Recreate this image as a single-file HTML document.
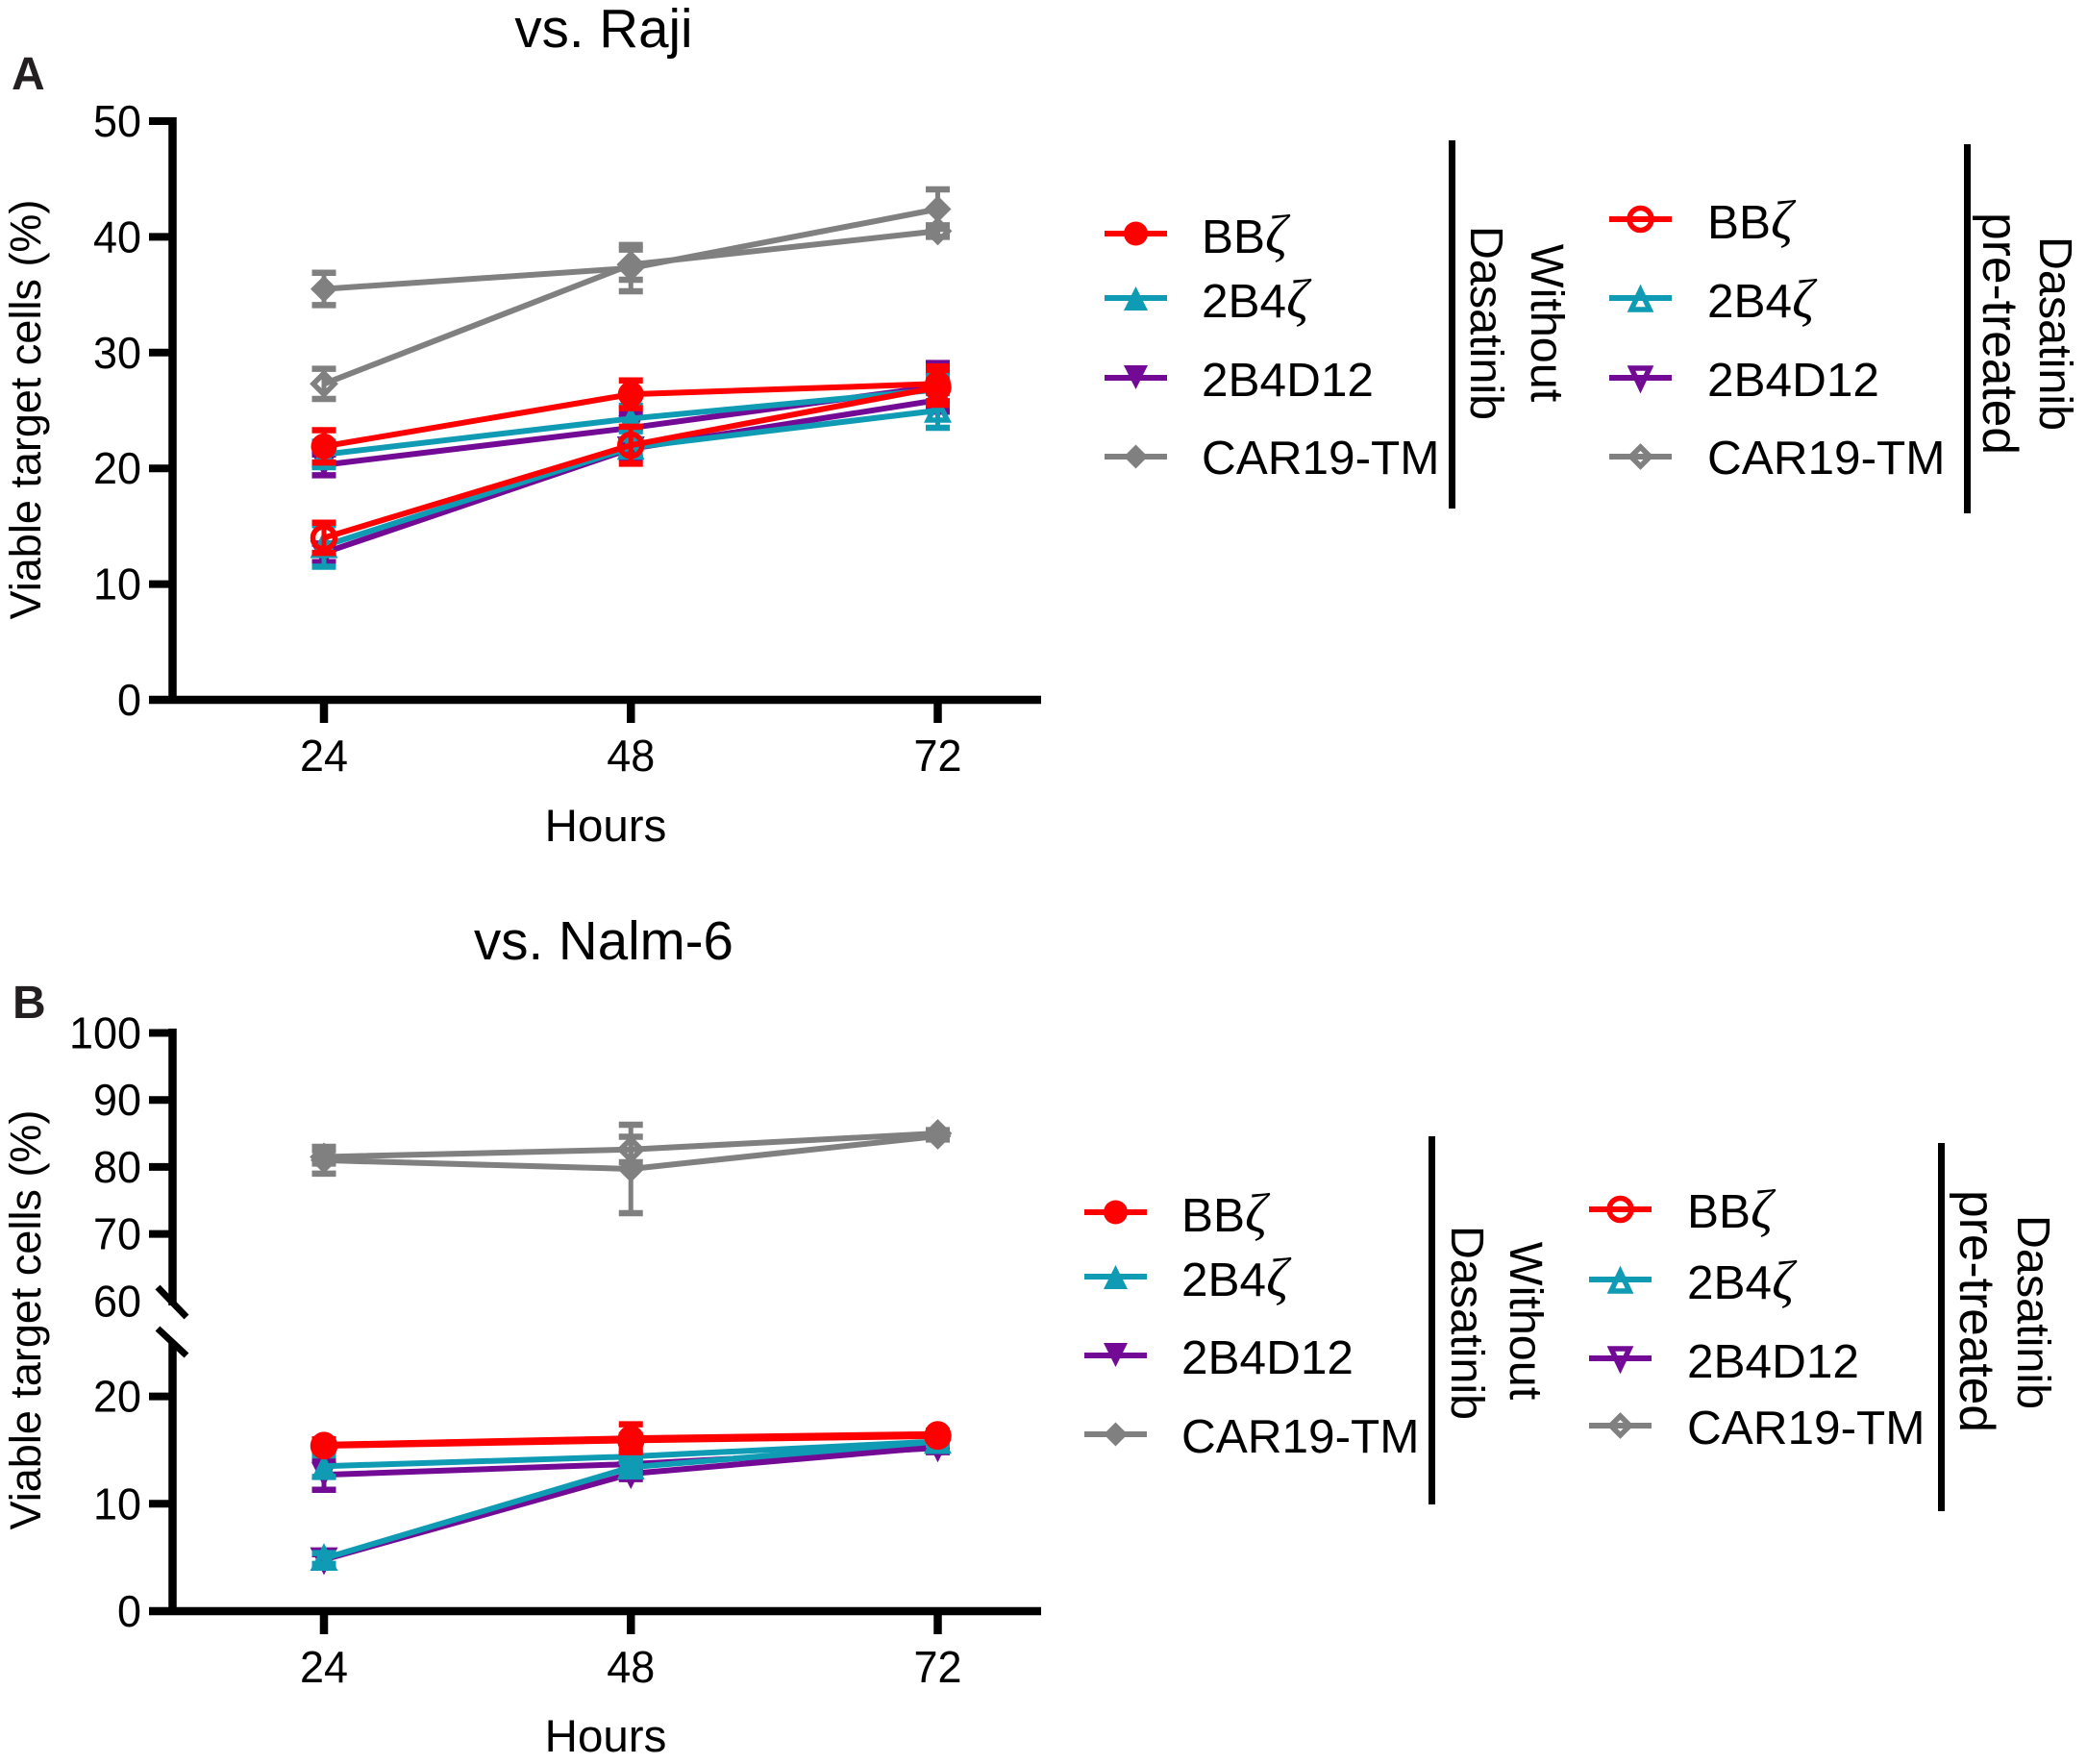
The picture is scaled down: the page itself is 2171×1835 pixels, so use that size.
<!DOCTYPE html>
<html>
<head>
<meta charset="utf-8">
<title>Viable target cells vs. Raji and Nalm-6</title>
<style>
html,body{margin:0;padding:0;background:#fff;}
svg{display:block;}
text{font-family:"Liberation Sans",Arial,sans-serif;fill:#000;}
.tick{font-size:46px;}
.axt{font-size:47.5px;}
.ttl{font-size:56.5px;}
.ylab{font-size:45px;}
.leg{font-size:49.5px;}
.rot{font-size:48.5px;}
.rot2{font-size:51.5px;}
.zeta{font-family:"Liberation Serif","DejaVu Serif",serif;font-style:italic;font-size:57px;}
.pl{font-size:48px;font-weight:bold;fill:#231f20;}
.h{stroke-width:6;fill:none;}
.om{fill:none;stroke-width:5.5;}
</style>
</head>
<body>
<svg id="chart" xmlns="http://www.w3.org/2000/svg" width="2171" height="1835" viewBox="0 0 2171 1835">
<rect x="0" y="0" width="2171" height="1835" fill="#fff"/>

<text class="ttl" x="628" y="49" text-anchor="middle">vs. Raji</text>
<text class="pl" x="12" y="93">A</text>
<text class="ylab" transform="translate(42,426) rotate(-90)" text-anchor="middle">Viable target cells (%)</text>
<text class="axt" x="630" y="875" text-anchor="middle">Hours</text>
<g id="panelA"></g>

<text class="ttl" x="628" y="998" text-anchor="middle">vs. Nalm-6</text>
<text class="pl" x="13" y="1059">B</text>
<text class="ylab" transform="translate(42,1373) rotate(-90)" text-anchor="middle">Viable target cells (%)</text>
<text class="axt" x="630" y="1822" text-anchor="middle">Hours</text>
<g id="panelB"></g>

<!-- Legend A, without dasatinib -->
<g>
<g><path class="h" stroke="#ff0000" d="M1149 243H1214"/><circle cx="1181.5" cy="243" r="12.5" fill="#ff0000"/><text class="leg" x="1250" y="263">BB<tspan class="zeta">ζ</tspan></text></g>
<g><path class="h" stroke="#0f9bb4" d="M1149 310H1214"/><path d="M1181.5 298L1194 323H1169Z" fill="#0f9bb4"/><text class="leg" x="1250" y="330">2B4<tspan class="zeta">ζ</tspan></text></g>
<g><path class="h" stroke="#730a96" d="M1149 393H1214"/><path d="M1181.5 405L1194 380H1169Z" fill="#730a96"/><text class="leg" x="1250" y="412">2B4D12</text></g>
<g><path class="h" stroke="#808080" d="M1149 475H1214"/><path d="M1181.5 462.5L1194 475L1181.5 487.5L1169 475Z" fill="#808080"/><text class="leg" x="1250" y="493">CAR19-TM</text></g>
<rect x="1507" y="146" width="7" height="383" fill="#000"/>
<text class="rot" transform="translate(1593,336) rotate(90)" text-anchor="middle">Without</text>
<text class="rot" transform="translate(1530,336) rotate(90)" text-anchor="middle">Dasatinib</text>
</g>

<!-- Legend A, pre-treated -->
<g>
<g><path class="h" stroke="#ff0000" d="M1674 228H1739"/><circle class="om" cx="1706.5" cy="228" r="11.5" stroke="#ff0000"/><text class="leg" x="1776" y="248">BB<tspan class="zeta">ζ</tspan></text></g>
<g><path class="h" stroke="#0f9bb4" d="M1674 310H1739"/><path class="om" d="M1706.5 302L1716 322H1697Z" stroke="#0f9bb4"/><text class="leg" x="1776" y="330">2B4<tspan class="zeta">ζ</tspan></text></g>
<g><path class="h" stroke="#730a96" d="M1674 393H1739"/><path class="om" d="M1706.5 403L1716 383H1697Z" stroke="#730a96"/><text class="leg" x="1776" y="412">2B4D12</text></g>
<g><path class="h" stroke="#808080" d="M1674 475H1739"/><path class="om" d="M1706.5 465L1716.5 475L1706.5 485L1696.5 475Z" stroke="#808080"/><text class="leg" x="1776" y="493">CAR19-TM</text></g>
<rect x="2043" y="150" width="7" height="384" fill="#000"/>
<text class="rot2" transform="translate(2063,347) rotate(90)" text-anchor="middle">pre-treated</text>
<text class="rot" transform="translate(2122,347) rotate(90)" text-anchor="middle">Dasatinib</text>
</g>

<!-- Legend B, without dasatinib -->
<g>
<g><path class="h" stroke="#ff0000" d="M1128 1261H1193"/><circle cx="1160.5" cy="1261" r="12.5" fill="#ff0000"/><text class="leg" x="1229" y="1281">BB<tspan class="zeta">ζ</tspan></text></g>
<g><path class="h" stroke="#0f9bb4" d="M1128 1328H1193"/><path d="M1160.5 1316L1173 1341H1148Z" fill="#0f9bb4"/><text class="leg" x="1229" y="1348">2B4<tspan class="zeta">ζ</tspan></text></g>
<g><path class="h" stroke="#730a96" d="M1128 1410H1193"/><path d="M1160.5 1422L1173 1397H1148Z" fill="#730a96"/><text class="leg" x="1229" y="1429">2B4D12</text></g>
<g><path class="h" stroke="#808080" d="M1128 1492H1193"/><path d="M1160.5 1479.5L1173 1492L1160.5 1504.5L1148 1492Z" fill="#808080"/><text class="leg" x="1229" y="1511">CAR19-TM</text></g>
<rect x="1486" y="1182" width="7" height="383" fill="#000"/>
<text class="rot" transform="translate(1571,1374) rotate(90)" text-anchor="middle">Without</text>
<text class="rot" transform="translate(1510,1376) rotate(90)" text-anchor="middle">Dasatinib</text>
</g>

<!-- Legend B, pre-treated -->
<g>
<g><path class="h" stroke="#ff0000" d="M1653 1258H1718"/><circle class="om" cx="1685.5" cy="1258" r="11.5" stroke="#ff0000"/><text class="leg" x="1755" y="1277">BB<tspan class="zeta">ζ</tspan></text></g>
<g><path class="h" stroke="#0f9bb4" d="M1653 1331H1718"/><path class="om" d="M1685.5 1323L1695 1343H1676Z" stroke="#0f9bb4"/><text class="leg" x="1755" y="1351">2B4<tspan class="zeta">ζ</tspan></text></g>
<g><path class="h" stroke="#730a96" d="M1653 1413H1718"/><path class="om" d="M1685.5 1423L1695 1403H1676Z" stroke="#730a96"/><text class="leg" x="1755" y="1433">2B4D12</text></g>
<g><path class="h" stroke="#808080" d="M1653 1483H1718"/><path class="om" d="M1685.5 1473L1695.5 1483L1685.5 1493L1675.5 1483Z" stroke="#808080"/><text class="leg" x="1755" y="1502">CAR19-TM</text></g>
<rect x="2016" y="1189" width="7" height="383" fill="#000"/>
<text class="rot2" transform="translate(2039,1364) rotate(90)" text-anchor="middle">pre-treated</text>
<text class="rot" transform="translate(2099,1365) rotate(90)" text-anchor="middle">Dasatinib</text>
</g>
</svg>

<script>
// Categories and ticks
const hours = [24, 48, 72];
const yTicksRaji = [0, 10, 20, 30, 40, 50];
const yTicksNalm = [0, 10, 20, 60, 70, 80, 90, 100];

// Panel A: vs. Raji (means and error half-widths)
const rajiCarFilled = [35.5, 37.3, 42.4];
const rajiCarFilledErr = [1.4, 2.0, 1.7];
const rajiCarOpen = [27.3, 37.6, 40.5];
const rajiCarOpenErr = [1.3, 1.3, 0.5];
const raji2b4d12Filled = [20.3, 23.5, 27.1];
const raji2b4d12FilledErr = [0.9, 1.2, 2.0];
const raji2b4d12Open = [12.7, 21.7, 25.9];
const raji2b4d12OpenErr = [0.8, 0.8, 1.0];
const raji2b4zFilled = [21.2, 24.3, 26.8];
const raji2b4zFilledErr = [1.1, 1.1, 1.2];
const raji2b4zOpen = [13.3, 21.8, 25.0];
const raji2b4zOpenErr = [1.8, 0.7, 1.5];
const rajiBbzOpen = [14.0, 22.0, 27.0];
const rajiBbzOpenErr = [1.3, 1.6, 1.5];
const rajiBbzFilled = [21.9, 26.4, 27.3];
const rajiBbzFilledErr = [1.4, 1.2, 1.5];

// Panel B: vs. Nalm-6 (means and error half-widths)
const nalmCarFilled = [81.0, 79.7, 84.6];
const nalmCarFilledErr = [2.0, 6.6, 0.5];
const nalmCarOpen = [81.5, 82.6, 85.0];
const nalmCarOpenErr = [1.0, 1.9, 0.5];
const nalm2b4d12Filled = [12.7, 13.7, 15.2];
const nalm2b4d12FilledErr = [1.4, 0.5, 0.4];
const nalm2b4d12Open = [4.8, 12.8, 15.3];
const nalm2b4d12OpenErr = [0.5, 0.5, 0.3];
const nalm2b4zFilled = [13.5, 14.4, 15.8];
const nalm2b4zFilledErr = [1.0, 0.5, 0.3];
const nalm2b4zOpen = [4.9, 13.4, 15.8];
const nalm2b4zOpenErr = [0.5, 0.5, 0.3];
const nalmBbzOpen = [15.4, 15.9, 16.3];
const nalmBbzOpenErr = [0.4, 0.5, 0.3];
const nalmBbzFilled = [15.5, 16.1, 16.5];
const nalmBbzFilledErr = [0.5, 1.3, 0.3];

const RED = '#ff0000', TEAL = '#0f9bb4', PURPLE = '#730a96', GRAY = '#808080';
const NS = 'http://www.w3.org/2000/svg';

function mk(parent, tag) {
  const el = document.createElementNS(NS, tag);
  parent.appendChild(el);
  return el;
}
function xScale(h) {
  return 337 + (h - 24) * (975.5 - 337) / 48;
}
function yRaji(v) {
  return 728 - v * 602 / 50;
}
function yNalm(v) {
  if (v >= 40) return 1074.5 + (100 - v) * 6.97;
  return 1676 - v * 11.17;
}
function markerPath(shape, open, cx, cy) {
  const s = open ? 10 : 13;
  if (shape === 'up') return 'M' + cx + ' ' + (cy - s) + 'L' + (cx + s) + ' ' + (cy + s) + 'H' + (cx - s) + 'Z';
  if (shape === 'down') return 'M' + cx + ' ' + (cy + s) + 'L' + (cx + s) + ' ' + (cy - s) + 'H' + (cx - s) + 'Z';
  return 'M' + cx + ' ' + (cy - s - 1) + 'L' + (cx + s + 1) + ' ' + cy + 'L' + cx + ' ' + (cy + s + 1) + 'L' + (cx - s - 1) + ' ' + cy + 'Z';
}
function drawSeries(g, name, vals, errs, color, shape, open, yf) {
  const sg = mk(g, 'g');
  
  
  vals.forEach(function (v, i) {
    const x = xScale(hours[i]);
    const y0 = yf(v - errs[i]), y1 = yf(v + errs[i]);
    const bar = mk(sg, 'path');
    
    
    bar.setAttribute('d', 'M' + x + ' ' + y0 + 'V' + y1);
    bar.setAttribute('stroke', color);
    bar.setAttribute('stroke-width', '5');
    bar.setAttribute('fill', 'none');
    const caps = mk(sg, 'path');
    
    
    caps.setAttribute('d', 'M' + (x - 12.5) + ' ' + y0 + 'H' + (x + 12.5) + 'M' + (x - 12.5) + ' ' + y1 + 'H' + (x + 12.5));
    caps.setAttribute('stroke', color);
    caps.setAttribute('stroke-width', '6.5');
    caps.setAttribute('fill', 'none');
  });
  const line = mk(sg, 'polyline');
  
  
  line.setAttribute('points', vals.map(function (v, i) { return xScale(hours[i]) + ',' + yf(v); }).join(' '));
  line.setAttribute('stroke', color);
  line.setAttribute('stroke-width', '6');
  line.setAttribute('fill', 'none');
  vals.forEach(function (v, i) {
    const x = xScale(hours[i]), y = yf(v);
    let m;
    if (shape === 'circle') {
      m = mk(sg, 'circle');
      m.setAttribute('cx', x);
      m.setAttribute('cy', y);
      m.setAttribute('r', open ? 11.5 : 13.5);
    } else {
      m = mk(sg, 'path');
      m.setAttribute('d', markerPath(shape, open, x, y));
    }
    
    
    m.setAttribute('fill', open ? 'none' : color);
    if (open) {
      m.setAttribute('stroke', color);
      m.setAttribute('stroke-width', '5.5');
    }
  });
}
function drawXAxis(g, y0, labelY) {
  const ax = mk(g, 'path');
  
  
  ax.setAttribute('d', 'M155 ' + y0 + 'H1083');
  ax.setAttribute('stroke', '#000');
  ax.setAttribute('stroke-width', '8.5');
  hours.forEach(function (h) {
    const x = xScale(h);
    const t = mk(g, 'path');
    
    
    t.setAttribute('d', 'M' + x + ' ' + y0 + 'V' + (y0 + 24));
    t.setAttribute('stroke', '#000');
    t.setAttribute('stroke-width', '8.5');
    const l = mk(g, 'text');
    
    
    l.setAttribute('class', 'tick');
    l.setAttribute('x', x);
    l.setAttribute('y', labelY);
    l.setAttribute('text-anchor', 'middle');
    l.setAttribute('textLength', String(h).length * 25);
    l.setAttribute('lengthAdjust', 'spacingAndGlyphs');
    l.textContent = h;
  });
}
function drawYTicks(g, ticks, yf, hidden) {
  ticks.forEach(function (v) {
    const y = yf(v);
    if (hidden.indexOf(v) < 0) {
      const t = mk(g, 'path');
      
      
      t.setAttribute('d', 'M155 ' + y + 'H183');
      t.setAttribute('stroke', '#000');
      t.setAttribute('stroke-width', '8');
    }
    const l = mk(g, 'text');
    
    
    l.setAttribute('class', 'tick');
    l.setAttribute('x', 147);
    l.setAttribute('y', y + 16);
    l.setAttribute('text-anchor', 'end');
    l.setAttribute('textLength', String(v).length * 25);
    l.setAttribute('lengthAdjust', 'spacingAndGlyphs');
    l.textContent = v;
  });
}

// Panel A
const gA = document.getElementById('panelA');
const axA = mk(gA, 'path');


axA.setAttribute('d', 'M179.5 122V732');
axA.setAttribute('stroke', '#000');
axA.setAttribute('stroke-width', '8.5');
drawYTicks(gA, yTicksRaji, yRaji, []);
drawXAxis(gA, 728, 802);
drawSeries(gA, 'car19-tm-without', rajiCarFilled, rajiCarFilledErr, GRAY, 'diamond', false, yRaji);
drawSeries(gA, 'car19-tm-pretreated', rajiCarOpen, rajiCarOpenErr, GRAY, 'diamond', true, yRaji);
drawSeries(gA, '2b4d12-without', raji2b4d12Filled, raji2b4d12FilledErr, PURPLE, 'down', false, yRaji);
drawSeries(gA, '2b4d12-pretreated', raji2b4d12Open, raji2b4d12OpenErr, PURPLE, 'down', true, yRaji);
drawSeries(gA, '2b4z-without', raji2b4zFilled, raji2b4zFilledErr, TEAL, 'up', false, yRaji);
drawSeries(gA, '2b4z-pretreated', raji2b4zOpen, raji2b4zOpenErr, TEAL, 'up', true, yRaji);
drawSeries(gA, 'bbz-pretreated', rajiBbzOpen, rajiBbzOpenErr, RED, 'circle', true, yRaji);
drawSeries(gA, 'bbz-without', rajiBbzFilled, rajiBbzFilledErr, RED, 'circle', false, yRaji);

// Panel B
const gB = document.getElementById('panelB');
const axB1 = mk(gB, 'path');


axB1.setAttribute('d', 'M179.5 1070V1358');
axB1.setAttribute('stroke', '#000');
axB1.setAttribute('stroke-width', '8.5');
const axB2 = mk(gB, 'path');


axB2.setAttribute('d', 'M179.5 1396V1680');
axB2.setAttribute('stroke', '#000');
axB2.setAttribute('stroke-width', '8.5');
const brk = mk(gB, 'path');


brk.setAttribute('d', 'M164 1339L194 1370M164 1382L194 1410');
brk.setAttribute('stroke', '#000');
brk.setAttribute('stroke-width', '7');
drawYTicks(gB, yTicksNalm, yNalm, [60]);
drawXAxis(gB, 1676, 1750);
drawSeries(gB, 'car19-tm-without', nalmCarFilled, nalmCarFilledErr, GRAY, 'diamond', false, yNalm);
drawSeries(gB, 'car19-tm-pretreated', nalmCarOpen, nalmCarOpenErr, GRAY, 'diamond', true, yNalm);
drawSeries(gB, '2b4d12-without', nalm2b4d12Filled, nalm2b4d12FilledErr, PURPLE, 'down', false, yNalm);
drawSeries(gB, '2b4d12-pretreated', nalm2b4d12Open, nalm2b4d12OpenErr, PURPLE, 'down', true, yNalm);
drawSeries(gB, '2b4z-without', nalm2b4zFilled, nalm2b4zFilledErr, TEAL, 'up', false, yNalm);
drawSeries(gB, '2b4z-pretreated', nalm2b4zOpen, nalm2b4zOpenErr, TEAL, 'up', true, yNalm);
drawSeries(gB, 'bbz-pretreated', nalmBbzOpen, nalmBbzOpenErr, RED, 'circle', true, yNalm);
drawSeries(gB, 'bbz-without', nalmBbzFilled, nalmBbzFilledErr, RED, 'circle', false, yNalm);
</script>
</body>
</html>
